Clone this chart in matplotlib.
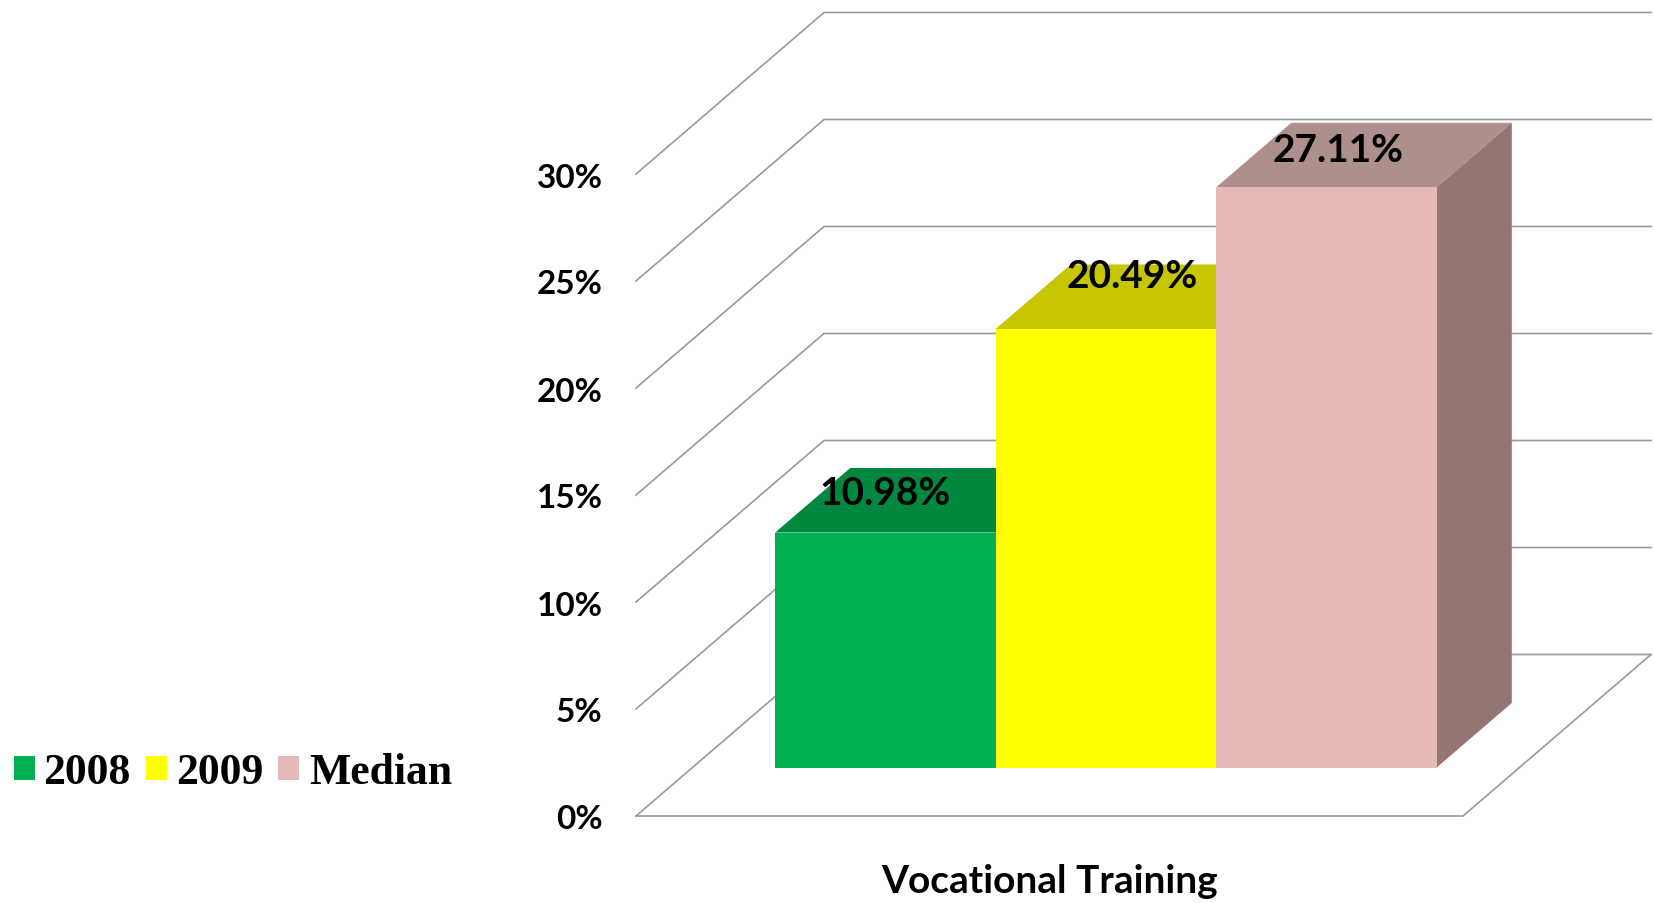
import matplotlib
matplotlib.use("Agg")
import matplotlib.pyplot as plt
from matplotlib.patches import Rectangle

# Data
categoria = "Vocational Training"
series = ["2008", "2009", "Median"]
valores = [10.98, 20.49, 27.11]
etiquetas = ["10.98%", "20.49%", "27.11%"]
ticks_y = [0, 5, 10, 15, 20, 25, 30]

# Colours: front, top, side
frente = ["#00B050", "#FFFF00", "#E6B8B7"]
arriba = ["#00883F", "#C6C600", "#AD8F8C"]
lado = ["#007A38", "#B0B000", "#937573"]
color_rejilla = "#999999"

# Size of the fake 3D box
W, H = 1654, 904
px_por_pct = 21.4
x0_px, y0_px = 636, 817
ancho_px = 827
fondo_x = 188 / ancho_px       # x shift for full depth
fondo_y = 161.5 / px_por_pct   # y shift for full depth
d1, d2 = 0.3, 0.7              # depth of the bars inside the box
ancho_barra = 220.5 / ancho_px
inicio_barras = 0.1

# Label offsets from the top of each bar (pixels)
desp_etiqueta = [(0, 40), (26, 54), (12, 38)]

fig = plt.figure(figsize=(W / 100, H / 100), dpi=100)
ax = fig.add_axes([x0_px / W, (H - y0_px) / H, (W - x0_px) / W, y0_px / H])
ax.set_xlim(0, (W - x0_px) / ancho_px)
ax.set_ylim(0, y0_px / px_por_pct)
for s in ax.spines.values():
    s.set_visible(False)

# Gridlines on the side and back walls
for v in ticks_y:
    ax.plot([0, fondo_x, fondo_x + 1], [v, v + fondo_y, v + fondo_y],
            color=color_rejilla, lw=1.2, zorder=1, clip_on=False)

# Floor
ax.plot([0, 1, 1 + fondo_x], [0, 0, fondo_y], color=color_rejilla, lw=1.2, zorder=1, clip_on=False)

# Bars, front face with bar() and the two visible faces as polygons
base = d1 * fondo_y
xs = [inicio_barras + i * ancho_barra for i in range(len(valores))]
for i, v in enumerate(valores):
    x = xs[i] + d1 * fondo_x
    dx = (d2 - d1) * fondo_x
    dy = (d2 - d1) * fondo_y
    ax.fill([x, x + dx, x + ancho_barra + dx, x + ancho_barra],
            [base + v, base + v + dy, base + v + dy, base + v],
            color=arriba[i], lw=0, zorder=2)
    ax.fill([x + ancho_barra, x + ancho_barra + dx, x + ancho_barra + dx, x + ancho_barra],
            [base, base + dy, base + v + dy, base + v],
            color=lado[i], lw=0, zorder=2)
    ax.bar(x, v, width=ancho_barra, bottom=base, align="edge", color=frente[i], lw=0, zorder=3)
    ax.annotate(etiquetas[i], (x + ancho_barra / 2, base + v),
                xytext=desp_etiqueta[i], textcoords="offset pixels",
                ha="center", va="center", fontsize=28, family="Lato",
                fontweight="bold", color="black", zorder=5)

# Axis ticks and labels
ax.set_yticks(ticks_y)
ax.set_yticklabels([f"{t}%" for t in ticks_y], family="Lato", fontsize=24, fontweight="bold")
ax.tick_params(axis="y", length=0, pad=24)
for lab in ax.get_yticklabels():
    lab.set_verticalalignment("center")
    lab.set_transform(lab.get_transform() + matplotlib.transforms.ScaledTranslation(0, -3 / 100, fig.dpi_scale_trans))
ax.set_xticks([0.5])
ax.set_xticklabels([categoria], family="Lato", fontsize=28, fontweight="bold")
ax.tick_params(axis="x", length=0, pad=34)

# Legend by hand
leg_cuadro = [14, 146, 278]
leg_texto = [43, 176, 309]
for i, nombre in enumerate(series):
    fig.patches.append(Rectangle((leg_cuadro[i] / W, (H - 781) / H), 21 / W, 24 / H,
                                 transform=fig.transFigure, facecolor=frente[i], lw=0))
    fig.text(leg_texto[i] / W, (H - 784) / H, nombre, family="Liberation Serif", fontweight="bold",
             fontsize=31.5, ha="left", va="baseline", color="black")

fig.savefig("out.png", dpi=100, facecolor="white")
